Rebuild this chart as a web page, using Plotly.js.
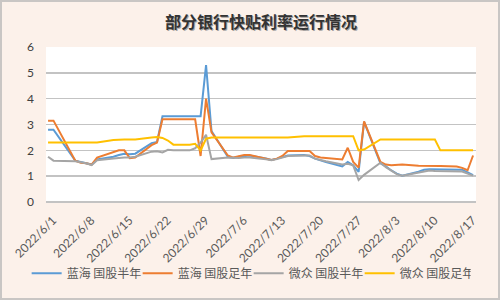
<!DOCTYPE html>
<html>
<head>
<meta charset="utf-8">
<script src="https://cdn.plot.ly/plotly-3.0.1.min.js"></script>
<style>
html,body{margin:0;padding:0;background:#fcf1ea;}
#wrap{position:relative;width:500px;height:300px;}
#chart{width:500px;height:300px;}
#border{position:absolute;left:0;top:0;width:496px;height:296px;border:2px solid #c9c6c4;pointer-events:none;}
</style>
</head>
<body>
<div id="wrap"><div id="chart"></div><div id="border"></div></div>
<script>
const dates = ['2022-06-01','2022-06-02','2022-06-06','2022-06-07','2022-06-08','2022-06-09','2022-06-10',
'2022-06-13','2022-06-14','2022-06-15','2022-06-16','2022-06-17','2022-06-20','2022-06-21','2022-06-22',
'2022-06-23','2022-06-24','2022-06-27','2022-06-28','2022-06-29','2022-06-30','2022-07-01','2022-07-04',
'2022-07-05','2022-07-06','2022-07-07','2022-07-08','2022-07-11','2022-07-12','2022-07-13','2022-07-14',
'2022-07-15','2022-07-18','2022-07-19','2022-07-20','2022-07-21','2022-07-22','2022-07-25','2022-07-26',
'2022-07-27','2022-07-28','2022-07-29','2022-08-01','2022-08-02','2022-08-03','2022-08-04','2022-08-05',
'2022-08-08','2022-08-09','2022-08-10','2022-08-11','2022-08-12','2022-08-15','2022-08-16','2022-08-17','2022-08-18'];

const lanhaiHalf = [2.8,2.8,1.6,1.55,1.5,1.45,1.65,1.75,1.82,1.87,1.85,1.87,2.28,2.32,3.32,3.32,3.32,3.32,3.32,3.32,5.3,2.75,
1.75,1.7,1.75,1.78,1.8,1.68,1.63,1.68,1.75,1.8,1.82,1.78,1.68,1.6,1.55,1.38,1.55,1.42,1.17,3.1,1.5,1.38,1.22,1.1,1.02,
1.17,1.25,1.27,1.27,1.27,1.27,1.25,1.15,1.04];

const lanhaiFull = [3.15,3.15,1.6,1.52,1.5,1.45,1.72,1.95,2.0,2.0,1.7,1.72,2.2,2.3,3.2,3.2,3.2,3.2,3.2,1.78,4.0,2.7,
1.8,1.72,1.78,1.82,1.82,1.68,1.63,1.68,1.78,1.97,1.97,1.97,1.78,1.72,1.7,1.65,2.1,1.55,1.33,3.12,1.55,1.45,1.42,1.43,1.45,
1.4,1.4,1.4,1.39,1.39,1.37,1.32,1.23,1.8];

const weizhongHalf = [1.75,1.6,1.58,1.55,1.5,1.43,1.62,1.68,1.71,1.72,1.72,1.75,1.95,1.96,1.92,2.02,2.0,2.0,2.08,2.3,2.6,1.66,
1.72,1.7,1.7,1.72,1.72,1.65,1.62,1.66,1.72,1.78,1.8,1.8,1.68,1.62,1.58,1.45,1.48,1.42,0.85,1.05,1.52,1.35,1.2,1.08,1.02,
1.15,1.2,1.22,1.2,1.2,1.2,1.18,1.1,1.02];

const weizhongFull = [2.3,2.3,2.3,2.3,2.3,2.3,2.3,2.4,2.42,2.42,2.42,2.42,2.5,2.52,2.48,2.38,2.22,2.22,2.25,2.0,2.45,2.5,
2.5,2.5,2.5,2.5,2.5,2.5,2.5,2.5,2.5,2.5,2.55,2.55,2.55,2.55,2.55,2.55,2.55,2.55,2.0,2.03,2.42,2.42,2.42,2.42,2.42,
2.42,2.42,2.42,2.42,2.0,2.0,2.0,2.0,2.0];

const seriesNames = ['蓝海 国股半年','蓝海 国股足年','微众 国股半年','微众 国股足年'];
const seriesColors = ['#5b9bd5','#ed7d31','#a5a5a5','#ffc000'];
const tickDates = ['2022-06-01','2022-06-08','2022-06-15','2022-06-22','2022-06-29','2022-07-06','2022-07-13',
'2022-07-20','2022-07-27','2022-08-03','2022-08-10','2022-08-17'];
const tickLabels = ['2022/6/1','2022/6/8','2022/6/15','2022/6/22','2022/6/29','2022/7/6','2022/7/13',
'2022/7/20','2022/7/27','2022/8/3','2022/8/10','2022/8/17'];
const chartTitle = '部分银行快贴利率运行情况';

const allSeries = [lanhaiHalf, lanhaiFull, weizhongHalf, weizhongFull];
const traces = allSeries.map((ys, i) => ({
  x: dates, y: ys, type: 'scatter', mode: 'lines', name: seriesNames[i],
  line: {color: seriesColors[i], width: 2}
}));

const titleFont = {family: 'Noto Sans CJK SC', size: 16};
const layout = {
  width: 500, height: 300,
  margin: {l: 46, r: 24, t: 47, b: 96},
  paper_bgcolor: '#fcf1ea',
  plot_bgcolor: '#ffffff',
  annotations: [
    {text: '<b>' + chartTitle + '</b>', xref: 'paper', yref: 'paper', x: 0.5, y: 1.166,
     xanchor: 'center', yanchor: 'middle', showarrow: false, xshift: 1.2, yshift: -1.2,
     font: Object.assign({color: '#a8a4a2'}, titleFont)},
    {text: '<b>' + chartTitle + '</b>', xref: 'paper', yref: 'paper', x: 0.5, y: 1.166,
     xanchor: 'center', yanchor: 'middle', showarrow: false,
     font: Object.assign({color: '#333333'}, titleFont)}
  ],
  xaxis: {
    type: 'date',
    range: ['2022-05-31 15:00', '2022-08-18 13:00'],
    tickmode: 'array', tickvals: tickDates, ticktext: tickLabels,
    tickangle: -45, showgrid: false, zeroline: false, showline: false,
    ticks: '', ticklabelstandoff: 8, ticklabelshift: 5,
    tickfont: {family: 'Lato, Open Sans, sans-serif', size: 12, color: '#595959'}
  },
  yaxis: {
    range: [0, 6], dtick: 1, tick0: 0, showgrid: true, gridcolor: '#c3c3c3', gridwidth: 1.5,
    zeroline: true, zerolinecolor: '#c3c3c3', zerolinewidth: 1.5, showline: false,
    ticks: '', ticklabelstandoff: 11,
    tickfont: {family: 'Lato, Open Sans, sans-serif', size: 12, color: '#404040'}
  },
  showlegend: true,
  legend: {orientation: 'h', x: -0.045, xanchor: 'left', y: -0.46, yanchor: 'middle',
    font: {family: 'Noto Sans CJK SC', size: 12, color: '#595959'}, bgcolor: 'rgba(0,0,0,0)',
    itemwidth: 30, entrywidth: 66, entrywidthmode: 'pixels', traceorder: 'normal'}
};

Plotly.newPlot('chart', traces, layout, {displayModeBar: false, staticPlot: true});
</script>
</body>
</html>
